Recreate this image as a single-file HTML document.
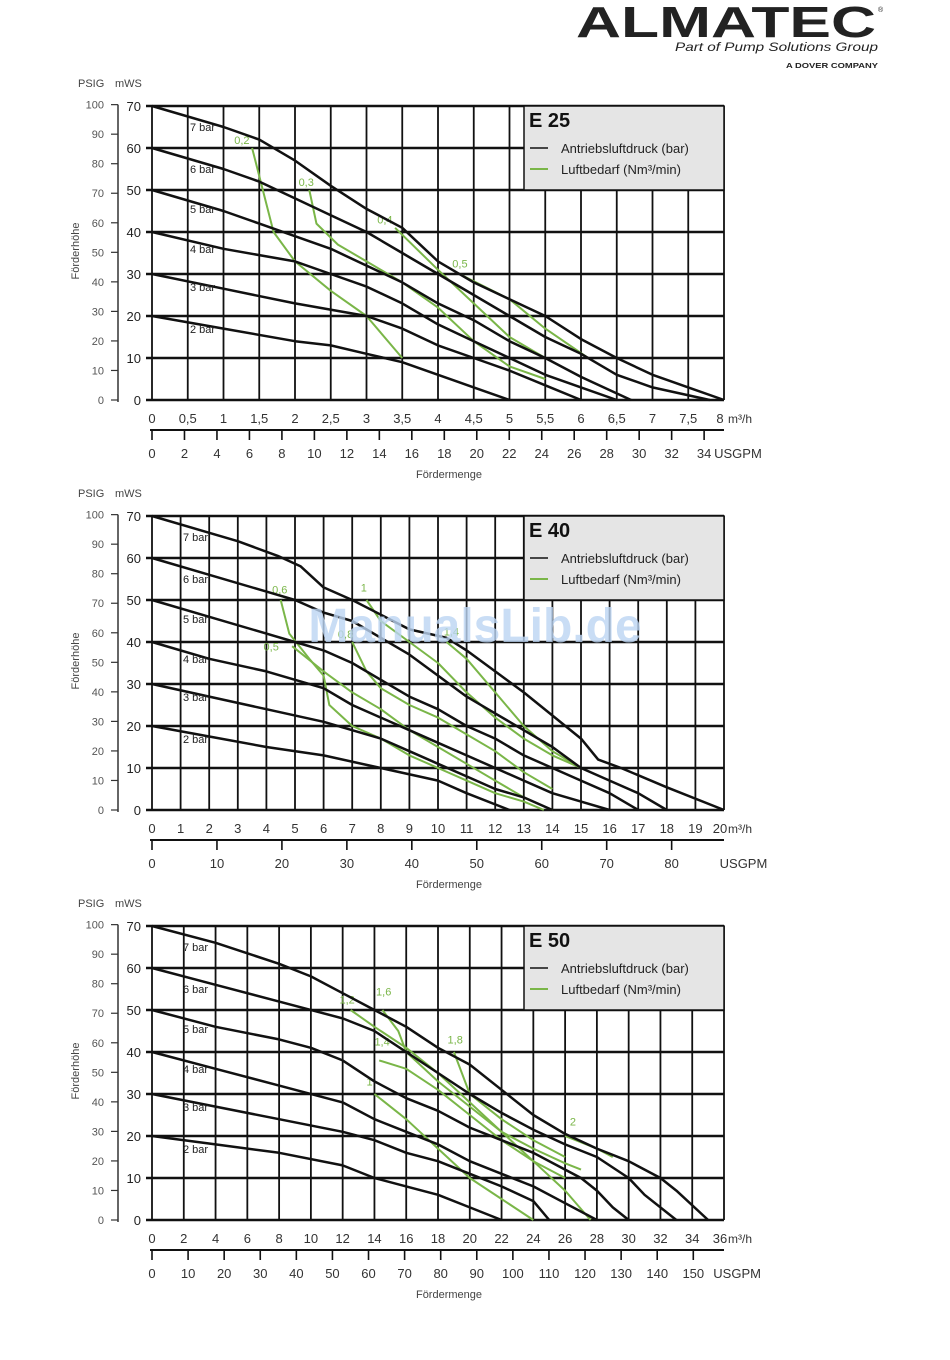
<!DOCTYPE html>
<html><head><meta charset="utf-8">
<style>
html,body{margin:0;padding:0;background:#fff;}
svg{display:block;font-family:"Liberation Sans",sans-serif;}
</style></head>
<body>
<svg id="page" width="950" height="1360" viewBox="0 0 950 1360" xmlns="http://www.w3.org/2000/svg">
<g>
<text x="576" y="37" font-size="44" font-weight="bold" fill="#222" textLength="300" lengthAdjust="spacingAndGlyphs">ALMATEC</text>
<text x="878" y="12" font-size="7" fill="#222">®</text>
<text x="675" y="51" font-size="12" font-style="italic" fill="#222" textLength="203" lengthAdjust="spacingAndGlyphs">Part of Pump Solutions Group</text>
<text x="786" y="68" font-size="7" font-weight="bold" fill="#222" textLength="92" lengthAdjust="spacingAndGlyphs">A DOVER COMPANY</text>
</g>
<g id="charts"></g>
<text x="475" y="642" font-size="48" font-weight="bold" fill="#bcd4f2" fill-opacity="0.8" text-anchor="middle">ManualsLib.de</text>
</svg>
<script>
// ---------- data ----------
const chartTitles = ["E 25", "E 40", "E 50"];
const xMaxM3 = [8, 20, 36];
const xGridStep = [0.5, 1, 2];
const xTickLabels25 = ["0","0,5","1","1,5","2","2,5","3","3,5","4","4,5","5","5,5","6","6,5","7","7,5","8"];
const xTickLabels40 = ["0","1","2","3","4","5","6","7","8","9","10","11","12","13","14","15","16","17","18","19","20"];
const xTickLabels50 = ["0","2","4","6","8","10","12","14","16","18","20","22","24","26","28","30","32","34","36"];
const gpmTicks25 = [0,2,4,6,8,10,12,14,16,18,20,22,24,26,28,30,32,34];
const gpmTicks40 = [0,10,20,30,40,50,60,70,80];
const gpmTicks50 = [0,10,20,30,40,50,60,70,80,90,100,110,120,130,140,150];
const mwsTicks = [0,10,20,30,40,50,60,70];
const psigTicks = [0,10,20,30,40,50,60,70,80,90,100];
const barNames = ["7 bar","6 bar","5 bar","4 bar","3 bar","2 bar"];
const barLabelY = [64,54,44.5,35,26,16];

// E25 black curves [x m3/h, y mWS]
const e25bar7 = [[0,70],[1,65],[1.5,62],[2,57],[2.5,51],[3,45.5],[3.5,41],[4,33],[4.5,28],[5,24],[5.5,20],[6,14.5],[6.5,10],[7,6],[7.5,3],[8,0]];
const e25bar6 = [[0,60],[1,55],[1.5,52],[2,48],[2.5,44],[3,40],[3.5,35],[4,30],[4.5,25],[5,20],[5.5,15],[6,11],[6.5,6],[7,3],[7.8,0]];
const e25bar5 = [[0,50],[1,45],[1.5,42],[2,39],[2.5,36],[3,32],[3.5,28],[4,23],[4.5,19],[5,14],[5.5,10],[6,5.5],[6.7,0]];
const e25bar4 = [[0,40],[1,36],[2,33],[2.5,30],[3,27],[3.5,23],[4,18],[4.5,14],[5,10],[5.5,6],[6,3],[6.5,0]];
const e25bar3 = [[0,30],[1,26.5],[2,23],[3,20],[3.5,17],[4,13],[4.5,10],[5,7],[5.5,3.5],[6,0]];
const e25bar2 = [[0,20],[1,17],[2,14],[2.5,13],[3,11],[3.5,9],[4,6],[4.5,3],[5,0]];
const e25air = [[1.4,60],[1.55,50],[1.7,40],[2,33],[2.5,26],[3,20],[3.5,10]];
const e25air3 = [[2.2,50],[2.3,42],[2.6,37],[3,33],[3.5,28],[4,22],[4.5,14],[5,8],[5.5,5]];
const e25air4 = [[3.4,41],[4,31],[4.5,23],[5,15],[5.5,10]];
const e25air5 = [[4.3,30],[5,24],[5.5,17],[6.1,10]];
const e25airLabels = [["0,2",1.15,61],["0,3",2.05,51],["0,4",3.15,42],["0,5",4.2,31.5]];

// E40
const e40bar7 = [[0,70],[2,66],[3,64],[4.4,60.5],[5.2,58],[6,53],[7,50],[8,46.5],[9,43],[10.3,41],[11,38],[12,33],[13,28],[14,22.5],[15,17],[15.6,12],[16.4,10],[18,5.4],[20,0]];
const e40bar6 = [[0,60],[2,56],[4,52],[5,50],[6,47],[7,45],[8,41],[9,37],[10,32],[11,27],[12,23],[13,19],[14,15],[15,10],[16,7],[17,4],[18,0]];
const e40bar5 = [[0,50],[2,46],[4,42],[5,40],[6,38],[7,35],[8,31],[9,27],[10,24],[11,20],[12,17],[13,13],[14,10],[15,7],[16,4],[17,0]];
const e40bar4 = [[0,40],[2,36],[4,33],[6,29],[7,25],[8,22],[9,19],[10,16],[11,13],[12,10],[13,7],[14,4],[15,2],[16,0]];
const e40bar3 = [[0,30],[2,27],[4,24],[6,21],[7,19],[8,17],[9,14],[10,11],[11,8],[12,5],[13,3],[14,0]];
const e40bar2 = [[0,20],[2,17.5],[4,15],[6,13],[8,10],[10,7],[11,4],[12.5,0]];
const e40air6 = [[4.5,50],[4.8,42],[5.5,36],[6,32],[6.2,25],[7,20],[8,17],[9,13],[10,10],[11,7],[12,4],[13,2],[13.7,0]];
const e40air5 = [[4.9,39],[6,33],[7,28],[8,24],[9,19],[10,15],[11,11],[12,7],[13,3],[14,0]];
const e40air8 = [[7,40],[7.5,33],[8,29],[9,25],[10,22],[11,18],[12,14],[13,9],[14,5]];
const e40air10 = [[7.5,50],[8,45],[9,40],[10,35],[11,28],[12,22],[13,17],[14,13],[15,10]];
const e40air14 = [[10.3,40],[11,36],[12,28],[13,20],[14,14],[15,10]];
const e40airLabels = [["0,6",4.2,51.5],["0,5",3.9,38],["0,8",6.5,41],["1",7.3,52],["1,4",10.2,41.5]];

// E50
const e50bar7 = [[0,70],[4,66],[8,61],[10,58],[12,54],[14,50],[16,46],[18,41],[20,37],[22,31],[24,25],[26,20.5],[28,17],[30,14],[32,10],[33,7],[35,0]];
const e50bar6 = [[0,60],[4,56],[8,52],[12,48],[14,45],[16,40],[18,35],[20,30],[22,25.5],[24,21.5],[26,18],[28,15],[30,10],[31,6],[33,0]];
const e50bar5 = [[0,50],[4,46],[8,43],[10,41],[12,38],[14,33],[16,29],[18,26],[20,22],[22,19],[24,16],[26,12],[27,10],[28,7],[29,3],[30,0]];
const e50bar4 = [[0,40],[4,36],[8,32],[12,28],[14,24],[16,21],[18,18],[20,14],[22,11],[24,8],[26,4],[28,0]];
const e50bar3 = [[0,30],[4,27],[8,24],[12,21],[14,19],[16,16],[18,14],[20,11],[22,8],[24,4.5],[25,0]];
const e50bar2 = [[0,20],[4,18],[8,16],[12,13],[14,10],[16,8],[18,6],[20,3],[22,0]];
const e50air10 = [[14,30],[16,24],[18,17],[20,10],[22,5],[24,0]];
const e50air12 = [[12.5,50],[14,46],[16,41],[18,35],[20,28],[22,21],[24,14],[26,7],[27.6,0]];
const e50air14 = [[14.3,38],[16,36],[18,31],[20,25],[22,19],[24,14],[26,10]];
const e50air16 = [[14.5,50],[15.5,45],[16,40],[18,33],[20,27],[22,21],[24,17],[26,13.5],[27,12]];
const e50air18 = [[19,40],[20,30],[22,24],[24,19],[26,15]];
const e50air20 = [[26,20],[28,17],[29,15]];
const e50airLabels = [["1,2",11.8,51.5],["1,6",14.1,53.5],["1,8",18.6,42],["1,4",14,41.5],["1",13.5,32],["2",26.3,22.5]];

const charts = [
 {title:chartTitles[0], xmax:xMaxM3[0], step:xGridStep[0], labels:xTickLabels25, gpm:gpmTicks25, black:[e25bar7,e25bar6,e25bar5,e25bar4,e25bar3,e25bar2], green:[e25air,e25air3,e25air4,e25air5], glabels:e25airLabels},
 {title:chartTitles[1], xmax:xMaxM3[1], step:xGridStep[1], labels:xTickLabels40, gpm:gpmTicks40, black:[e40bar7,e40bar6,e40bar5,e40bar4,e40bar3,e40bar2], green:[e40air6,e40air5,e40air8,e40air10,e40air14], glabels:e40airLabels},
 {title:chartTitles[2], xmax:xMaxM3[2], step:xGridStep[2], labels:xTickLabels50, gpm:gpmTicks50, black:[e50bar7,e50bar6,e50bar5,e50bar4,e50bar3,e50bar2], green:[e50air10,e50air12,e50air14,e50air16,e50air18,e50air20], glabels:e50airLabels}
];

// ---------- drawing ----------
const NS = "http://www.w3.org/2000/svg";
const root = document.getElementById("charts");
function mk(tag, attrs, parent, txt){
  const e = document.createElementNS(NS, tag);
  for (const k in attrs) e.setAttribute(k, attrs[k]);
  if (txt !== undefined) e.textContent = txt;
  parent.appendChild(e);
  return e;
}
const X0 = 152, X1 = 724, PH = 294;
charts.forEach((c, ci) => {
  const top = 106 + ci*410, bot = top + PH;
  const g = mk("g", {}, root);
  
  
  const sx = v => X0 + v/c.xmax*(X1-X0);
  const sy = v => bot - v/70*PH;
  for (let v = 0; v <= c.xmax + 1e-9; v += c.step) {
    const l = mk("line", {x1:sx(v), y1:top, x2:sx(v), y2:bot, stroke:"#111", "stroke-width":1.8}, g);
    
    
  }
  mwsTicks.forEach(v => {
    const l = mk("line", {x1:X0-6, y1:sy(v), x2:X1, y2:sy(v), stroke:"#111", "stroke-width":2.4}, g);
    
    
    const t = mk("text", {x:141, y:sy(v)+5, "font-size":13, "text-anchor":"end", fill:"#222"}, g, String(v));
    
    
  });
  const pa = mk("line", {x1:118, y1:sy(100/1.422), x2:118, y2:bot+2, stroke:"#333", "stroke-width":1.5}, g);
  
  
  psigTicks.forEach(p => {
    const y = sy(p/1.422);
    mk("line", {x1:111, y1:y, x2:118, y2:y, stroke:"#333", "stroke-width":1.2}, g);
    const t = mk("text", {x:104, y:y+4, "font-size":11, "text-anchor":"end", fill:"#555"}, g, String(p));
    
    
  });
  const h1 = mk("text", {x:78, y:top-19, "font-size":11, fill:"#444"}, g, "PSIG");
  
  
  const h2 = mk("text", {x:115, y:top-19, "font-size":11, fill:"#444"}, g, "mWS");
  
  
  const yt = mk("text", {x:0, y:0, "font-size":11, fill:"#444", "text-anchor":"middle", transform:`translate(79,${top+145}) rotate(-90)`}, g, "Förderhöhe");
  
  
  c.labels.forEach((lab, i) => {
    const t = mk("text", {x:sx(i*c.step)+(i===c.labels.length-1?-4:0), y:bot+23, "font-size":13, "text-anchor":"middle", fill:"#333"}, g, lab);
    
    
  });
  const mu = mk("text", {x:sx(c.xmax)+4, y:bot+23, "font-size":12, fill:"#333"}, g, "m³/h");
  
  
  const gy = bot + 30;
  const ga = mk("line", {x1:X0-2, y1:gy, x2:X1, y2:gy, stroke:"#111", "stroke-width":2}, g);
  
  
  c.gpm.forEach(u => {
    const x = sx(u/4.403);
    mk("line", {x1:x, y1:gy, x2:x, y2:gy+10, stroke:"#111", "stroke-width":1.6}, g);
    const t = mk("text", {x:x, y:gy+28, "font-size":13, "text-anchor":"middle", fill:"#333"}, g, String(u));
    
    
  });
  const gu = mk("text", {x:sx(c.gpm[c.gpm.length-1]/4.403)+ (ci===0?10:ci===1?48:20), y:gy+28, "font-size":13, fill:"#333"}, g, "USGPM");
  
  
  const xt = mk("text", {x:449, y:gy+48, "font-size":11, "text-anchor":"middle", fill:"#444"}, g, "Fördermenge");
  
  
  const lg = mk("g", {}, g);
  
  
  mk("rect", {x:524, y:top, width:X1-524, height:84, fill:"#e5e5e5", stroke:"#111", "stroke-width":1.5}, lg);
  mk("text", {x:529, y:top+21, "font-size":20, "font-weight":"bold", fill:"#111"}, lg, c.title);
  mk("line", {x1:530, y1:top+42, x2:548, y2:top+42, stroke:"#111", "stroke-width":1.5}, lg);
  mk("text", {x:561, y:top+47, "font-size":13, fill:"#222"}, lg, "Antriebsluftdruck (bar)");
  mk("line", {x1:530, y1:top+63, x2:548, y2:top+63, stroke:"#7ab648", "stroke-width":2}, lg);
  mk("text", {x:561, y:top+68, "font-size":13, fill:"#222"}, lg, "Luftbedarf (Nm³/min)");
  c.green.forEach(s => {
    const p = mk("polyline", {points:s.map(d => sx(d[0])+","+sy(d[1])).join(" "), fill:"none", stroke:"#7ab648", "stroke-width":2, "stroke-linejoin":"round"}, g);
    
    
  });
  c.glabels.forEach(l => {
    const t = mk("text", {x:sx(l[1]), y:sy(l[2]), "font-size":11, fill:"#7ab648"}, g, l[0]);
    
    
  });
  c.black.forEach((s, i) => {
    const p = mk("polyline", {points:s.map(d => sx(d[0])+","+sy(d[1])).join(" "), fill:"none", stroke:"#111", "stroke-width":2.5, "stroke-linejoin":"round"}, g);
    
    
    const t = mk("text", {x:ci===0?190:183, y:sy(barLabelY[i]), "font-size":11, fill:"#222"}, g, barNames[i]);
    
    
  });
});
</script>
</body></html>
